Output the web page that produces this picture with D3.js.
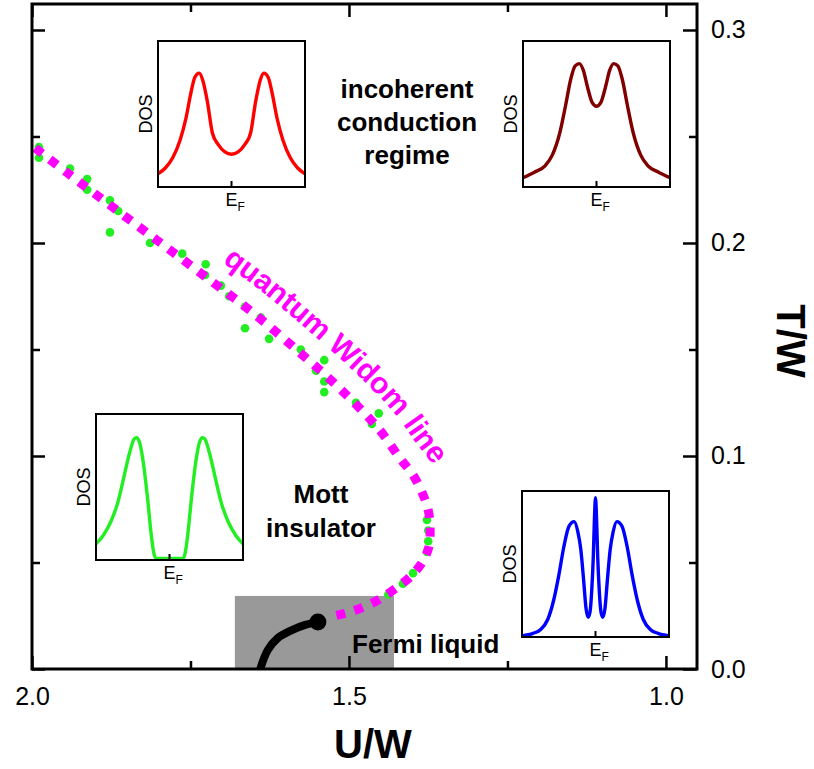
<!DOCTYPE html>
<html>
<head>
<meta charset="utf-8">
<script src="https://cdn.jsdelivr.net/npm/d3@7"></script>
<style>
  html, body { margin: 0; padding: 0; background: #fff; }
  svg { display: block; font-family: "Liberation Sans", Arial, Helvetica, sans-serif; }
</style>
</head>
<body>
<svg id="chart" width="814" height="769"></svg>
<script>
// ---- phase diagram data (U/W, T/W) ----
// quantum Widom line
const widomU = [1.995, 1.942, 1.869, 1.797, 1.724, 1.653, 1.584, 1.517, 1.453, 1.420, 1.399, 1.385, 1.375, 1.372, 1.374, 1.385, 1.402, 1.421, 1.457, 1.494, 1.522];
const widomT = [0.2446, 0.2324, 0.2160, 0.2000, 0.1836, 0.1676, 0.1502, 0.1324, 0.1127, 0.0991, 0.0911, 0.0831, 0.0746, 0.0662, 0.0573, 0.0498, 0.0437, 0.0390, 0.0319, 0.0272, 0.0250];

// crossover points
const crossU = [1.989, 1.989, 1.940, 1.913, 1.913, 1.877, 1.864, 1.877, 1.814, 1.763, 1.726, 1.727, 1.702, 1.689, 1.664, 1.639, 1.664, 1.626, 1.576, 1.539, 1.552, 1.539, 1.539, 1.489, 1.453, 1.464, 1.377, 1.375, 1.375, 1.377, 1.399, 1.415, 1.438];
const crossT = [0.245, 0.240, 0.235, 0.230, 0.225, 0.220, 0.215, 0.205, 0.200, 0.195, 0.190, 0.185, 0.180, 0.175, 0.170, 0.165, 0.160, 0.155, 0.150, 0.145, 0.140, 0.135, 0.130, 0.125, 0.120, 0.115, 0.070, 0.065, 0.060, 0.055, 0.045, 0.040, 0.035];

// first-order transition line ending at the critical point
const firstOrderU = [1.640, 1.628, 1.612, 1.590, 1.569, 1.549];
const firstOrderT = [0.0, 0.0089, 0.0146, 0.0183, 0.0207, 0.0221];

// coexistence region
const coexistU = [1.680, 1.429];
const coexistT = [0.0, 0.0343];

// axis ticks
const xMajorTicks = [2.0, 1.5, 1.0];
const xMinorTicks = [1.75, 1.25];
const yMajorTicks = [0.0, 0.1, 0.2, 0.3];
const yMinorTicks = [0.05, 0.15, 0.25];

// ---- inset DOS curves: energy relative to E_F in [-1,1], DOS in [0,1] ----
const dosRedE = [-1, -0.9, -0.8, -0.7, -0.62, -0.55, -0.5, -0.44, -0.39, -0.33, -0.26, -0.18, -0.09, 0, 0.09, 0.18, 0.26, 0.33, 0.39, 0.44, 0.5, 0.55, 0.62, 0.7, 0.8, 0.9, 1];
const dosRedD = [0.09, 0.13, 0.2, 0.32, 0.47, 0.65, 0.75, 0.78, 0.73, 0.59, 0.37, 0.29, 0.24, 0.224, 0.24, 0.29, 0.37, 0.59, 0.73, 0.78, 0.75, 0.65, 0.47, 0.32, 0.2, 0.13, 0.09];

const dosMaroonE = [-1, -0.85, -0.7, -0.6, -0.5, -0.42, -0.35, -0.29, -0.234, -0.18, -0.12, -0.06, 0, 0.06, 0.12, 0.18, 0.234, 0.29, 0.35, 0.42, 0.5, 0.6, 0.7, 0.85, 1];
const dosMaroonD = [0.064, 0.1, 0.145, 0.22, 0.37, 0.56, 0.74, 0.83, 0.845, 0.8, 0.68, 0.58, 0.553, 0.58, 0.68, 0.8, 0.845, 0.83, 0.74, 0.56, 0.37, 0.22, 0.145, 0.1, 0.064];

const dosGreenE = [-1, -0.9, -0.8, -0.7, -0.62, -0.54, -0.48, -0.45, -0.41, -0.36, -0.3, -0.25, -0.21, -0.18, 0, 0.18, 0.21, 0.25, 0.3, 0.36, 0.41, 0.45, 0.48, 0.54, 0.62, 0.7, 0.8, 0.9, 1];
const dosGreenD = [0.11, 0.17, 0.26, 0.4, 0.57, 0.74, 0.83, 0.838, 0.81, 0.68, 0.43, 0.18, 0.04, 0.01, 0.01, 0.01, 0.04, 0.18, 0.43, 0.68, 0.81, 0.838, 0.83, 0.74, 0.57, 0.4, 0.26, 0.17, 0.11];

const dosBlueE = [-1, -0.85, -0.75, -0.65, -0.57, -0.5, -0.43, -0.36, -0.29, -0.24, -0.2, -0.16, -0.13, -0.1, -0.075, -0.05, -0.03, -0.015, 0, 0.015, 0.03, 0.05, 0.075, 0.1, 0.13, 0.16, 0.2, 0.24, 0.29, 0.36, 0.43, 0.5, 0.57, 0.65, 0.75, 0.85, 1];
const dosBlueD = [0.008, 0.025, 0.05, 0.12, 0.25, 0.42, 0.62, 0.76, 0.79, 0.72, 0.6, 0.38, 0.2, 0.135, 0.17, 0.33, 0.55, 0.8, 0.954, 0.8, 0.55, 0.33, 0.17, 0.135, 0.2, 0.38, 0.6, 0.72, 0.79, 0.76, 0.62, 0.42, 0.25, 0.12, 0.05, 0.025, 0.008];

// ---- layout ----
const svg = d3.select("#chart");
const x = d3.scaleLinear().domain([2.0, 0.951]).range([32, 697]);
const y = d3.scaleLinear().domain([0, 0.3122]).range([669, 4]);

const GREEN = "#22ee22", MAGENTA = "#ff00ff";

svg.append("defs").append("clipPath").attr("id", "plotClip")
  .append("rect").attr("x", 32).attr("y", 4).attr("width", 665).attr("height", 665);

const plot = svg.append("g").attr("clip-path", "url(#plotClip)");

// coexistence region
plot.append("rect")
  .attr("x", x(coexistU[0])).attr("y", y(coexistT[1]))
  .attr("width", x(coexistU[1]) - x(coexistU[0]))
  .attr("height", y(coexistT[0]) - y(coexistT[1]))
  .attr("fill", "#999999");

// first-order line and critical end point
const foPts = firstOrderU.map((u, i) => [x(u), y(firstOrderT[i])]);
plot.append("path").datum(foPts)
  .attr("d", d3.line().curve(d3.curveCatmullRom))
  .attr("fill", "none").attr("stroke", "#000").attr("stroke-width", 8);
plot.append("circle")
  .attr("cx", foPts[foPts.length - 1][0]).attr("cy", foPts[foPts.length - 1][1])
  .attr("r", 8.5).attr("fill", "#000");

// crossover points
plot.selectAll("circle.cross").data(crossU.map((u, i) => [u, crossT[i]]))
  .join("circle").attr("class", "cross")
  .attr("cx", d => x(d[0])).attr("cy", d => y(d[1]))
  .attr("r", 4.3).attr("fill", GREEN);

// quantum Widom line
const wPts = widomU.map((u, i) => [x(u), y(widomT[i])]);
const widom = plot.append("path").datum(wPts)
  .attr("d", d3.line().curve(d3.curveCatmullRom.alpha(0.5)))
  .attr("fill", "none").attr("stroke", MAGENTA)
  .attr("stroke-width", 9).attr("stroke-dasharray", "9 9.6");

// baseline for the curved label, offset from the Widom line
const wn = widom.node(), wLen = wn.getTotalLength();
const labelStartU = 1.724, labelEndT = 0.055, labelOffset = 22;
const basePts = [];
for (let s = 2; s < wLen - 2; s += 3) {
  const p = wn.getPointAtLength(s);
  const a = wn.getPointAtLength(s - 2), b = wn.getPointAtLength(s + 2);
  let dx = b.x - a.x, dy = b.y - a.y; const n = Math.hypot(dx, dy); dx /= n; dy /= n;
  if (x.invert(p.x) > labelStartU) continue;
  if (y.invert(p.y) < labelEndT) break;
  basePts.push([p.x + labelOffset * dy, p.y - labelOffset * dx]);
}
svg.select("defs").append("path").attr("id", "widomLabelPath")
  .attr("d", d3.line().curve(d3.curveBasis)(basePts));
svg.append("text")
  .attr("font-size", 30).attr("font-weight", "bold").attr("fill", MAGENTA)
  .append("textPath").attr("href", "#widomLabelPath")
  .text("quantum Widom line");

// ---- region labels ----
function label(lines, cx, baseY, lh, anchor) {
  const t = svg.append("text").attr("font-size", 26).attr("font-weight", "bold")
    .attr("fill", "#000").attr("text-anchor", anchor || "middle");
  lines.forEach((s, i) => t.append("tspan").attr("x", cx).attr("y", baseY + i * lh).text(s));
}
label(["incoherent", "conduction", "regime"], 407, 98, 33);
label(["Mott", "insulator"], 321, 503, 34);
label(["Fermi liquid"], 352, 653, 0, "start");

// ---- axes ----
function styleAxis(g, width) {
  g.select(".domain").remove();
  g.selectAll(".tick line").attr("stroke", "#000").attr("stroke-width", width);
  g.selectAll(".tick text").attr("font-size", 25).attr("fill", "#000")
    .attr("font-family", "'Liberation Sans', Arial, sans-serif");
}
const fmt = d3.format(".1f");
// bottom
svg.append("g").attr("transform", `translate(0,${y(0)})`)
  .call(d3.axisBottom(x).tickValues(xMajorTicks).tickFormat(fmt).tickSizeInner(-13).tickSizeOuter(0).tickPadding(18))
  .call(g => styleAxis(g, 2.5));
svg.append("g").attr("transform", `translate(0,${y(0)})`)
  .call(d3.axisBottom(x).tickValues(xMinorTicks).tickFormat("").tickSizeInner(-8).tickSizeOuter(0))
  .call(g => styleAxis(g, 2.5));
// top
svg.append("g").attr("transform", `translate(0,${y.range()[1]})`)
  .call(d3.axisTop(x).tickValues(xMajorTicks).tickFormat("").tickSizeInner(-13).tickSizeOuter(0))
  .call(g => styleAxis(g, 2.5));
svg.append("g").attr("transform", `translate(0,${y.range()[1]})`)
  .call(d3.axisTop(x).tickValues(xMinorTicks).tickFormat("").tickSizeInner(-8).tickSizeOuter(0))
  .call(g => styleAxis(g, 2.5));
// right
svg.append("g").attr("transform", `translate(${x.range()[1]},0)`)
  .call(d3.axisRight(y).tickValues(yMajorTicks).tickFormat(fmt).tickSizeInner(-14).tickSizeOuter(0).tickPadding(14))
  .call(g => styleAxis(g, 2.5));
svg.append("g").attr("transform", `translate(${x.range()[1]},0)`)
  .call(d3.axisRight(y).tickValues(yMinorTicks).tickFormat("").tickSizeInner(-8).tickSizeOuter(0))
  .call(g => styleAxis(g, 2.5));
// left
svg.append("g").attr("transform", `translate(${x.range()[0]},0)`)
  .call(d3.axisLeft(y).tickValues(yMajorTicks).tickFormat("").tickSizeInner(-13).tickSizeOuter(0))
  .call(g => styleAxis(g, 2.5));
svg.append("g").attr("transform", `translate(${x.range()[0]},0)`)
  .call(d3.axisLeft(y).tickValues(yMinorTicks).tickFormat("").tickSizeInner(-8).tickSizeOuter(0))
  .call(g => styleAxis(g, 2.5));

// frame
svg.append("rect").attr("x", 32).attr("y", 4).attr("width", 665).attr("height", 665)
  .attr("fill", "none").attr("stroke", "#000").attr("stroke-width", 3);

// axis titles
svg.append("text").attr("x", 373).attr("y", 758).attr("text-anchor", "middle")
  .attr("font-size", 40).attr("font-weight", "bold").text("U/W");
svg.append("text").attr("transform", "translate(777,341) rotate(90)").attr("text-anchor", "middle")
  .attr("font-size", 40).attr("font-weight", "bold").text("T/W");

// ---- DOS insets ----
function inset(bx, by, color, E, D) {
  const w = 147, h = 146;
  const ex = d3.scaleLinear().domain([-1, 1]).range([bx, bx + w]);
  const dy = d3.scaleLinear().domain([0, 1]).range([by + h, by]);
  const g = svg.append("g");
  g.append("path").datum(E.map((e, i) => [e, D[i]]))
    .attr("d", d3.line().x(d => ex(d[0])).y(d => dy(d[1])).curve(d3.curveMonotoneX))
    .attr("fill", "none").attr("stroke", color).attr("stroke-width", 3.4);
  g.append("rect").attr("x", bx).attr("y", by).attr("width", w).attr("height", h)
    .attr("fill", "none").attr("stroke", "#000").attr("stroke-width", 2);
  g.append("line").attr("x1", ex(0)).attr("x2", ex(0)).attr("y1", by + h).attr("y2", by + h - 6)
    .attr("stroke", "#000").attr("stroke-width", 2);
  g.append("text").attr("transform", `translate(${bx - 6},${by + h / 2}) rotate(-90)`)
    .attr("text-anchor", "middle").attr("font-size", 18).text("DOS");
  const ef = g.append("text").attr("x", ex(0) - 6).attr("y", by + h + 19).attr("font-size", 18);
  ef.append("tspan").text("E");
  ef.append("tspan").attr("font-size", 12).attr("dy", 5).text("F");
}
inset(158, 41, "#ff0000", dosRedE, dosRedD);
inset(523, 41, "#800000", dosMaroonE, dosMaroonD);
inset(96, 414, GREEN, dosGreenE, dosGreenD);
inset(522, 491, "#0000ff", dosBlueE, dosBlueD);
</script>
</body>
</html>
